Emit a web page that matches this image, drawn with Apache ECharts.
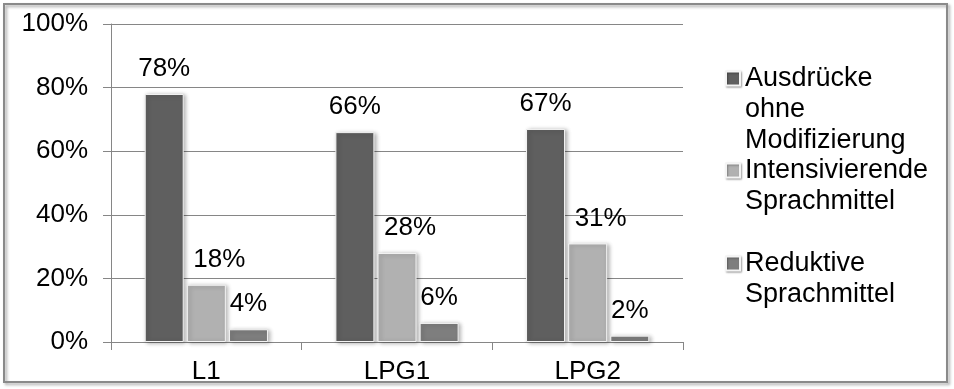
<!DOCTYPE html>
<html><head><meta charset="utf-8">
<script src="https://cdn.jsdelivr.net/npm/echarts@6/dist/echarts.min.js"></script>
<style>html,body{margin:0;padding:0;background:#fff}#c{width:954px;height:389px}</style>
</head><body><div id="c"></div>
<script>
const categories = ['L1', 'LPG1', 'LPG2'];
const seriesNames = ['Ausdrücke\nohne\nModifizierung', 'Intensivierende\nSprachmittel', 'Reduktive\nSprachmittel'];
const ohneModifizierung = [78, 66, 67];
const intensivierende = [18, 28, 31];
const reduktive = [4, 6, 2];
const yTicks = [0, 20, 40, 60, 80, 100];

const colors = ['#5f5f5f', '#b1b1b1', '#7e7e7e'];
const FONT = 'Liberation Sans, Arial, sans-serif';
const values = [ohneModifizierung, intensivierende, reduktive];
const labelOffsets = [[0, 0], [13, 0], [0, 0]];

const chart = echarts.init(document.getElementById('c'));
const legendTops = [1, 124, 217];

chart.setOption({
  animation: false,
  backgroundColor: '#fff',
  graphic: [{
    type: 'rect', z: 100, silent: true,
    shape: { x: 4, y: 4, width: 943, height: 378 },
    style: { fill: 'none', stroke: '#8a8a8a', lineWidth: 2, shadowBlur: 3, shadowOffsetX: 2, shadowOffsetY: 2, shadowColor: 'rgba(0,0,0,0.35)' }
  }],
  legend: seriesNames.map((n, i) => ({
    data: [n], left: 725, top: legendTops[i], padding: 0,
    itemWidth: 14, itemHeight: 14, itemGap: 0, icon: 'rect',
    formatter: name => ' \n'.repeat(name.split('\n').length - 1) + name,
    itemStyle: { shadowBlur: 2, shadowOffsetX: 1, shadowOffsetY: 1, shadowColor: 'rgba(0,0,0,0.3)' },
    textStyle: { fontFamily: FONT, fontSize: 27, color: '#000', lineHeight: 31 },
    selectedMode: false
  })),
  grid: { left: 111, right: 271, top: 24, bottom: 47 },
  xAxis: {
    type: 'category', data: categories,
    axisLine: { lineStyle: { color: '#868686', width: 1 } },
    axisTick: { show: true, length: 8, lineStyle: { color: '#868686' } },
    axisLabel: { fontFamily: FONT, fontSize: 26, color: '#000', margin: 17 }
  },
  yAxis: {
    type: 'value', min: 0, max: 100, interval: 20,
    axisLine: { show: true, lineStyle: { color: '#868686' } },
    axisTick: { show: true, length: 8, inside: false, lineStyle: { color: '#868686' } },
    splitLine: { lineStyle: { color: '#868686' } },
    axisLabel: { fontFamily: FONT, fontSize: 26, color: '#000', margin: 23,
      formatter: v => yTicks.includes(v) ? v + '%' : '' }
  },
  series: seriesNames.map((n, i) => ({
    name: n, type: 'bar', data: values[i], barWidth: 39, barGap: '8%',
    itemStyle: { color: colors[i], borderColor: '#f4f4f4', borderWidth: 1,
      shadowBlur: 4, shadowOffsetX: 2, shadowOffsetY: 1, shadowColor: 'rgba(0,0,0,0.3)' },
    label: { show: true, position: 'top', distance: 12, offset: labelOffsets[i],
      formatter: p => p.value + '%', fontFamily: FONT, fontSize: 26, color: '#000' }
  }))
});
</script></body></html>
